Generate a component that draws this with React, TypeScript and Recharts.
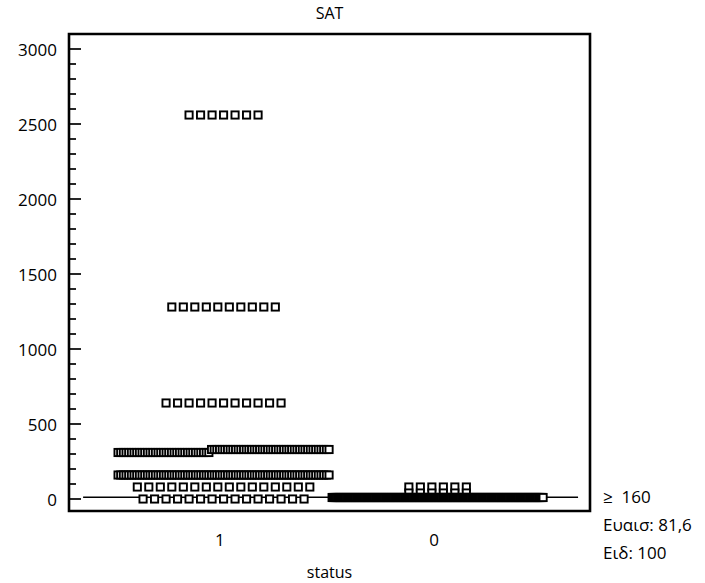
import {Customized, ReferenceArea, ReferenceLine, Scatter, ScatterChart, XAxis, YAxis} from "recharts";

// status groups, left to right
const statusGroups = ['1', '0'];

// SAT titers and how many cases sit at each one
const satValuesStatus1 = [2560, 1280, 640, 330, 310, 160, 80, 0];
const satCountsStatus1 = [7, 10, 11, 45, 35, 80, 16, 15];
const satValuesStatus0 = [80, 40, 10];
const satCountsStatus0 = [6, 6, 190];

const yMajorTicks = [0, 500, 1000, 1500, 2000, 2500, 3000];
const yMinorStep = 100;

const cutLineValue = 12;
const criterionLabel = '\u2265\u00a0\u00a0160';
const sensitivityLabel = 'Ευαισ: 81,6';
const specificityLabel = 'Ειδ: 100';


const WIDTH = 705;
const HEIGHT = 583;
const PLOT = {left: 69, top: 34, right: 590, bottom: 511};
const X_DOMAIN: [number, number] = [0.3, 2.7];
const Y_DOMAIN: [number, number] = [-80, 3100];
const PX_PER_X = (PLOT.right - PLOT.left) / (X_DOMAIN[1] - X_DOMAIN[0]);
const MAX_STEP_PX = 11.5;
const MAX_HALF_PX = 105.5;
const MERGE_GAP = 25;
const FONT = '"Open Sans", sans-serif';

interface DotPoint {
    x: number;
    y: number;
}

// spread the cases of each titer sideways around the group centre,
// titers that would overlap vertically share one row
function layoutGroup(values: number[], counts: number[], center: number): DotPoint[] {
    const items = values.map((v, i) => ({value: v, count: counts[i]})).sort((a, b) => b.value - a.value);
    const rows: { value: number, count: number }[][] = [];
    items.forEach(item => {
        const last = rows[rows.length - 1];
        if (last && last[last.length - 1].value - item.value < MERGE_GAP) {
            last.push(item);
        } else {
            rows.push([item]);
        }
    });

    const points: DotPoint[] = [];
    rows.forEach(row => {
        const n = row.reduce((s, r) => s + r.count, 0);
        const stepPx = n > 1 ? Math.min(MAX_STEP_PX, 2 * MAX_HALF_PX / (n - 1)) : 0;
        const step = stepPx / PX_PER_X;
        let x = center - step * (n - 1) / 2;
        [...row].reverse().forEach(r => {
            for (let i = 0; i < r.count; i++) {
                points.push({x, y: r.value});
                x += step;
            }
        });
    });
    return points;
}

const status1Points = layoutGroup(satValuesStatus1, satCountsStatus1, 1.012);
const status0Points = layoutGroup(satValuesStatus0, satCountsStatus0, 1.998);

const yTicks: number[] = [];
for (let v = yMajorTicks[0]; v <= yMajorTicks[yMajorTicks.length - 1]; v += yMinorStep) yTicks.push(v);

function SquareDot(props: any) {
    const {cx, cy} = props;
    return <rect x={cx - 3.6} y={cy - 3.6} width={7.2} height={7.2} fill="#fff" stroke="#000" strokeWidth={1.9}/>;
}

function YTick(props: any) {
    const {y, payload} = props;
    const major = yMajorTicks.includes(payload.value);
    return <g>
        <line x1={PLOT.left} x2={PLOT.left + (major ? 12 : 7)} y1={y} y2={y} stroke="#000" strokeWidth={1.7}/>
        {major && <text x={57} y={y} textAnchor="end" dominantBaseline="central"
                        fontFamily={FONT} fontSize={17} fill="#000">{payload.value}</text>}
    </g>;
}

function XTick(props: any) {
    const {x, payload} = props;
    return <text x={x - (payload.value === 1 ? 1 : 4)} y={546} textAnchor="middle" fontFamily={FONT} fontSize={17} fill="#000">
        {statusGroups[payload.value - 1]}
    </text>;
}

function Extras() {
    return <g fontFamily={FONT} fill="#000">
        <text x={(PLOT.left + PLOT.right) / 2} y={19} textAnchor="middle" fontSize={16}>SAT</text>
        <text x={(PLOT.left + PLOT.right) / 2} y={578} textAnchor="middle" fontSize={16}>status</text>
        <text x={603} y={503} fontSize={17}>{criterionLabel}</text>
        <text x={603} y={531} fontSize={17}>{sensitivityLabel}</text>
        <text x={603} y={559} fontSize={17}>{specificityLabel}</text>
    </g>;
}

export default function App() {
    return <div style={{position: 'absolute', left: 0, top: 0}}>
        <ScatterChart width={WIDTH} height={HEIGHT}
                      margin={{top: PLOT.top, right: WIDTH - PLOT.right, left: PLOT.left - 60, bottom: HEIGHT - PLOT.bottom - 30}}>
            <XAxis type="number" dataKey="x" domain={X_DOMAIN} ticks={[1, 2]} allowDataOverflow
                   axisLine={false} tickLine={false} tick={<XTick/>} height={30}/>
            <YAxis type="number" dataKey="y" domain={Y_DOMAIN} ticks={yTicks} allowDataOverflow interval={0}
                   axisLine={false} tickLine={false} tick={<YTick/>} width={60}/>
            <ReferenceArea x1={X_DOMAIN[0]} x2={X_DOMAIN[1]} y1={Y_DOMAIN[0]} y2={Y_DOMAIN[1]}
                           fill="none" fillOpacity={0} stroke="#000" strokeWidth={2.6} ifOverflow="visible"/>
            <ReferenceLine segment={[{x: 0.365, y: cutLineValue}, {x: 2.645, y: cutLineValue}]}
                           stroke="#000" strokeWidth={1.4} ifOverflow="visible"/>
            <Scatter data={status1Points} shape={<SquareDot/>} isAnimationActive={false}/>
            <Scatter data={status0Points} shape={<SquareDot/>} isAnimationActive={false}/>
            <Customized component={<Extras/>}/>
        </ScatterChart>
    </div>;
}
